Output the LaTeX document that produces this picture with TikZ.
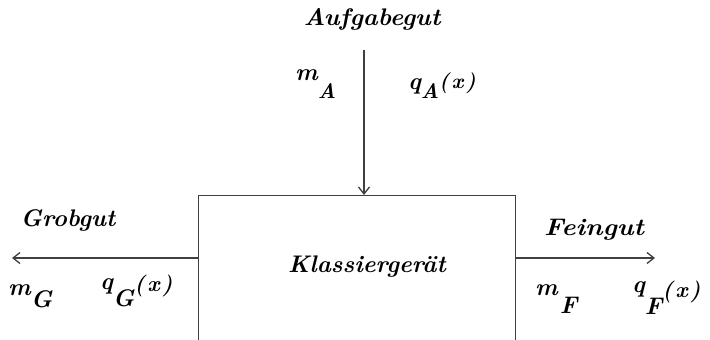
\documentclass[tikz,border=0pt]{standalone}
\usetikzlibrary{arrows.meta}
\usepackage{graphicx}
\definecolor{linec}{HTML}{404040}
\newcommand{\fs}[1]{\fontsize{#1}{#1}\selectfont\bfseries\itshape}
\newcommand{\widen}[2][1.0]{\scalebox{#1}[1]{#2}}
\newcommand{\argx}[1]{{\fs{#1}(\kern2.5pt x\kern2.5pt)}}
\begin{document}
\begin{tikzpicture}[x=1pt,y=-1pt,
  lbl/.style={inner sep=0pt, anchor=base},
  sym/.style={inner sep=0pt, anchor=base west},
  flow/.style={draw=linec, line width=1.3pt, -{Straight Barb[length=7pt,width=11pt]}}]
\useasboundingbox (0,0) rectangle (710,340);
% box (bottom edge outside the picture)
\node[draw=linec, line width=1.3pt, inner sep=0pt, minimum width=317pt, minimum height=185pt, anchor=north west] (box) at (198,195) {};
\coordinate (top) at (364,195);
\coordinate (inA) at (364,50);
\coordinate (outG) at (12,258);
\coordinate (outF) at (655,258);
\coordinate (boxW) at (198,258);
\coordinate (boxE) at (515,258);
\draw[flow] (inA) -- (top);
\draw[flow] (boxW) -- (outG);
\draw[flow] (boxE) -- (outF);
% titles
\node[lbl] (klass) at (367,272) {\fs{24}Klassierger\"at};
\node[lbl] (auf) at (372,25) {\fs{24}\widen[1.05]{Aufgabegut}};
\node[lbl] (grob) at (68,226) {\fs{24}Grobgut};
\node[lbl] (fein) at (594,235) {\fs{24}\widen[1.12]{Feingut}};
% symbols
\node[sym] (mA) at (295,80) {\fs{24}m\raisebox{-18pt}{\fs{21}A}};
\node[sym] (qA) at (408,89) {\fs{24}q\raisebox{-9pt}{\fs{21}A}\raisebox{1pt}{\argx{21}}};
\node[sym] (mG) at (8,295) {\fs{24}m\raisebox{-12pt}{\fs{24}G}};
\node[sym] (qG) at (100,289) {\fs{24}q\raisebox{-17.5pt}{\fs{24}G}\raisebox{-2pt}{\argx{22}}};
\node[sym] (mF) at (535,295) {\fs{24}m\kern2pt\raisebox{-18pt}{\fs{24}F}};
\node[sym] (qF) at (632,292) {\fs{24}q\raisebox{-22pt}{\fs{24}F}\raisebox{-5pt}{\argx{22}}};
\end{tikzpicture}
\end{document}
